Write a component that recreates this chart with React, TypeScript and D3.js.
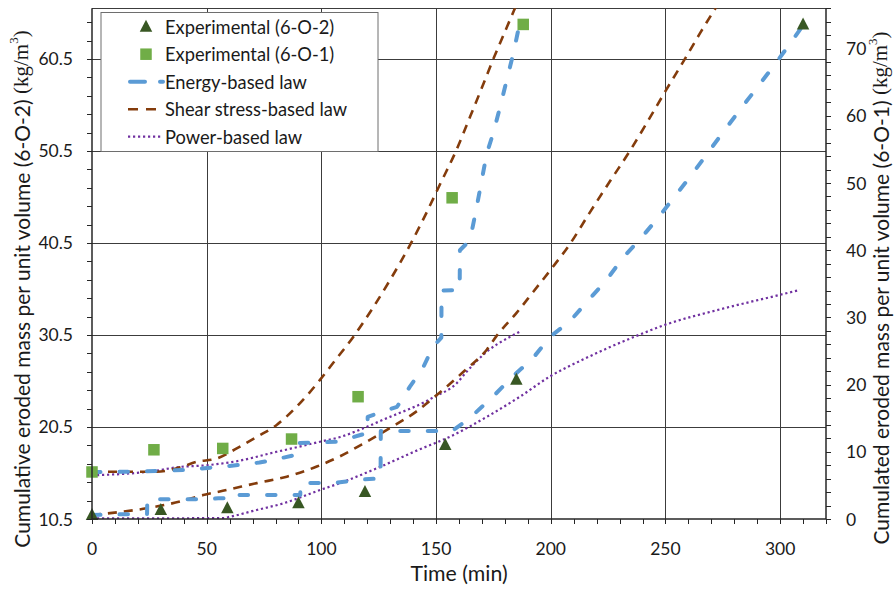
import React from "react";
import * as d3 from "d3";

// ---------- data ----------
const expO2Time = [0, 30, 59, 90, 119, 154, 185, 310];
const expO2Mass = [10.93, 11.48, 11.66, 12.2, 13.44, 18.55, 25.62, 64.23];
const expO1Time = [0, 27, 57, 87, 116, 157, 188];
const expO1Mass = [7.0, 10.3, 10.5, 11.9, 18.2, 47.8, 73.6];

// model curves for 6-O-2 (left axis)
const energyO2: [number, number][] = [
  [0, 10.93], [18, 11.04], [24, 11.05], [24.1, 12.64], [49, 12.64], [55, 12.75], [58.7, 12.75],
  [58.8, 13.1], [84, 13.1], [90.8, 13.1], [90.9, 14.4], [107, 14.45], [118, 14.8], [125.8, 14.9],
  [125.9, 20.07], [157, 20.07], [161.7, 20.9], [167, 22.0], [174.8, 23.8], [183.5, 26.0],
  [192.3, 28.0], [199.7, 30.3], [208.4, 32.0], [215.8, 34.1], [224.4, 36.5], [231.5, 38.9],
  [239.6, 41.1], [246.7, 43.2], [254.2, 45.6], [261.4, 47.9], [268.5, 50.3], [275.9, 52.8],
  [283.2, 55.2], [290.3, 57.5], [297.7, 59.9], [305, 62.4], [309, 63.8],
];
const shearO2: [number, number][] = [
  [0, 10.93], [13.6, 11.3], [23.8, 11.66], [38.4, 12.4], [48.5, 13.1], [58.7, 13.65], [71.8, 14.4],
  [84.9, 15.1], [98, 16.2], [108, 17.3], [119.7, 18.9], [130, 20.4], [141.5, 22.2], [149.5, 23.8],
  [156.1, 25.2], [163.3, 26.8], [172.1, 28.9], [176.4, 30.4], [185.1, 32.9], [192.4, 35.2],
  [200, 37.6], [208.4, 40.4], [217, 43.8], [225.8, 47.2], [234.5, 50.5], [242, 53.6], [250, 57.0],
  [258.5, 60.5], [265.1, 63.3], [272.3, 66.2],
];
const powerO2: [number, number][] = [
  [0, 10.58], [30, 10.58], [57, 10.6], [60.2, 10.75], [71.8, 11.48], [83.4, 12.2], [99.4, 13.65],
  [108.1, 14.4], [125, 16.1], [142.2, 18.0], [156.1, 19.45], [172.1, 21.6], [186.6, 23.8],
  [199.7, 26.0], [214.2, 27.85], [237.4, 30.4], [249.8, 31.6], [273.8, 33.28], [299.9, 34.86],
  [308.6, 35.4],
];

// model curves for 6-O-1 (right axis)
const energyO1: [number, number][] = [
  [0, 7.0], [20, 7.05], [41, 7.3], [60, 7.9], [73, 8.4], [83, 9.1], [89.8, 9.6], [90, 11.3],
  [107, 11.5], [117, 12.5], [120, 12.8], [120.2, 15.2], [133, 16.7], [138.6, 19.7], [144.3, 22.5],
  [148.6, 25.6], [151, 26.5], [152.3, 27], [152.4, 34], [160.3, 34.1], [160.4, 40], [164.8, 41.5],
  [167.7, 46.4], [169.9, 50.4], [172.1, 54.4], [174.9, 57.4], [177.9, 61.3], [180.8, 65.3],
  [183.7, 69.3], [185.8, 72.7], [188, 74.5],
];
const shearO1: [number, number][] = [
  [0, 7.03], [28.2, 7.03], [38.4, 7.7], [45.6, 8.5], [54.4, 9.0], [63.1, 10.5], [71.8, 12.2],
  [80.5, 14.0], [89.2, 16.7], [99.4, 20.7], [106, 23.6], [113.9, 27.1], [122.6, 31.5], [130, 35.6],
  [139, 41], [145, 45], [152, 50], [158.6, 54.7], [165, 60], [170, 64.2], [174.9, 68.4],
  [180, 72.5], [185, 76.5],
];
const powerO1: [number, number][] = [
  [0, 6.5], [28.2, 7.2], [36.9, 7.7], [50, 8.0], [63.1, 8.6], [80.5, 10.0], [87, 10.5],
  [99.4, 11.5], [108.2, 12.2], [118.3, 13.5], [129.9, 15.2], [134.3, 15.8], [144.4, 17.3],
  [148.8, 18.1], [159, 20.2], [163.3, 21.9], [172.1, 24.9], [182.2, 27.1], [186.6, 27.9],
];

const xTickLabels = [0, 50, 100, 150, 200, 250, 300];
const leftTickLabels = ["10.5", "20.5", "30.5", "40.5", "50.5", "60.5"];
const rightTickLabels = [0, 10, 20, 30, 40, 50, 60, 70];
const legendLabels = [
  "Experimental (6-O-2)",
  "Experimental (6-O-1)",
  "Energy-based law",
  "Shear stress-based law",
  "Power-based law",
];

// ---------- styles ----------
const FONT = "Lato, 'Open Sans', sans-serif";
const SERIF = "'Liberation Serif', 'DejaVu Serif', serif";
const TXT = "#1a1a1a";
const GRID = "#3c3c3c";
const BLUE = "#5B9BD5";
const BROWN = "#843C0C";
const PURPLE = "#7030A0";
const SQUARE = "#70AD47";
const TRI = "#385723";

const energyStyle = { stroke: BLUE, strokeWidth: 4, strokeDasharray: "8.5 19", strokeLinecap: "round" as const };
const shearStyle = { stroke: BROWN, strokeWidth: 2.6, strokeDasharray: "9 7", strokeLinecap: "butt" as const };
const powerStyle = { stroke: PURPLE, strokeWidth: 2.2, strokeDasharray: "2.2 2.8", strokeLinecap: "butt" as const };

export default function App() {
  const L = 92, R = 826, T = 8.3, B = 519;
  const x = d3.scaleLinear().domain([0, 320]).range([L, R]);
  const yL = d3.scaleLinear().domain([10.5, 66]).range([B, T]);
  const yR = d3.scaleLinear().domain([0, 76]).range([B, T]);

  const lineL = d3.line<[number, number]>().x((d) => x(d[0])).y((d) => yL(d[1]));
  const lineR = d3.line<[number, number]>().x((d) => x(d[0])).y((d) => yR(d[1]));
  const smoothL = d3.line<[number, number]>().x((d) => x(d[0])).y((d) => yL(d[1])).curve(d3.curveMonotoneX);
  const smoothR = d3.line<[number, number]>().x((d) => x(d[0])).y((d) => yR(d[1])).curve(d3.curveMonotoneX);

  const xMinor = d3.range(0, 320.01, 10);
  const lMinor = d3.range(10.5, 66.01, 2);
  const rMinor = d3.range(0, 76.01, 2);

  const triPath = (cx: number, cy: number) => {
    const w = 12.5, h = 12;
    return `M${cx},${cy - h / 2 - 1}L${cx + w / 2},${cy + h / 2 - 1}L${cx - w / 2},${cy + h / 2 - 1}Z`;
  };
  const sq = 11.5;

  const legX = 101, legY = 12.5, legW = 277, legH = 139;
  const rowY = (i: number) => 26.7 + i * 27.5;

  const cx = (a: number) => Math.round(a) + 0.5;

  return (
    <div style={{ position: "absolute", left: 0, top: 0 }}>
      <svg width={896} height={590} style={{ display: "block", background: "#fff" }} fontFamily={FONT}>
        <defs>
          <clipPath id="plotclip">
            <rect x={L} y={T} width={R - L} height={B - T} />
          </clipPath>
        </defs>
        {/* gridlines */}
        {xTickLabels.filter((t) => t > 0).map((t) => (
          <line key={"gx" + t} x1={cx(x(t))} x2={cx(x(t))} y1={T} y2={B} stroke={GRID} strokeWidth={1} />
        ))}
        {leftTickLabels.slice(1).map((s) => (
          <line key={"gy" + s} x1={L} x2={R} y1={cx(yL(+s))} y2={cx(yL(+s))} stroke={GRID} strokeWidth={1} />
        ))}
        <line x1={L} x2={R} y1={cx(T)} y2={cx(T)} stroke={GRID} strokeWidth={1} />

        {/* model lines */}
        <g clipPath="url(#plotclip)" fill="none">
          <path d={smoothL(powerO2) || ""} {...powerStyle} />
          <path d={smoothR(powerO1) || ""} {...powerStyle} />
          <path d={smoothL(shearO2) || ""} {...shearStyle} />
          <path d={smoothR(shearO1) || ""} {...shearStyle} />
          <path d={lineL(energyO2) || ""} {...energyStyle} strokeLinejoin="round" />
          <path d={lineR(energyO1) || ""} {...energyStyle} strokeLinejoin="round" />
        </g>

        {/* markers */}
        {expO1Time.map((t, i) => (
          <rect key={"s" + i} x={x(t) - sq / 2} y={yR(expO1Mass[i]) - sq / 2} width={sq} height={sq} fill={SQUARE} />
        ))}
        {expO2Time.map((t, i) => (
          <path key={"t" + i} d={triPath(x(t), yL(expO2Mass[i]))} fill={TRI} />
        ))}

        {/* axes */}
        <line x1={L} x2={L} y1={T} y2={B} stroke="#262626" strokeWidth={1.5} />
        <line x1={R} x2={R} y1={T} y2={B} stroke="#262626" strokeWidth={1.5} />
        <line x1={L} x2={R} y1={B} y2={B} stroke="#262626" strokeWidth={1.5} />
        {xMinor.map((t) => (
          <line key={"xt" + t} x1={cx(x(t))} x2={cx(x(t))} y1={B} y2={B + 5} stroke="#262626" strokeWidth={1} />
        ))}
        {lMinor.map((v) => (
          <line key={"lt" + v} x1={L - 5} x2={L} y1={cx(yL(v))} y2={cx(yL(v))} stroke="#262626" strokeWidth={1} />
        ))}
        {rMinor.map((v) => (
          <line key={"rt" + v} x1={R} x2={R + 5} y1={cx(yR(v))} y2={cx(yR(v))} stroke="#262626" strokeWidth={1} />
        ))}

        {/* tick labels */}
        {xTickLabels.map((t) => (
          <text key={"xl" + t} x={x(t)} y={548} textAnchor="middle" dominantBaseline="central" fontSize={17.5} fill={TXT}>
            {t}
          </text>
        ))}
        {leftTickLabels.map((s) => (
          <text key={"ll" + s} x={73} y={yL(+s)} textAnchor="end" dominantBaseline="central" fontSize={17.5} fill={TXT}>
            {s}
          </text>
        ))}
        {rightTickLabels.map((v) => (
          <text key={"rl" + v} x={846} y={yR(v)} textAnchor="start" dominantBaseline="central" fontSize={17.5} fill={TXT}>
            {v}
          </text>
        ))}

        {/* axis titles */}
        <text x={459} y={573} textAnchor="middle" dominantBaseline="central" fontSize={21.3} fill={TXT}>
          Time (min)
        </text>
        <text transform="translate(21,289) rotate(-90)" textAnchor="middle" dominantBaseline="central" fontSize={21} fill={TXT}>
          Cumulative eroded mass per unit volume (6-O-2){" "}
          <tspan fontFamily={SERIF}>(kg/m</tspan>
          <tspan fontFamily={SERIF} fontSize={13} dy={-8}>3</tspan>
          <tspan fontFamily={SERIF} dy={8}>)</tspan>
        </text>
        <text transform="translate(880,288) rotate(-90)" textAnchor="middle" dominantBaseline="central" fontSize={21} fill={TXT}>
          Cumulated eroded mass per unit volume (6-O-1){" "}
          <tspan fontFamily={SERIF}>(kg/m</tspan>
          <tspan fontFamily={SERIF} fontSize={13} dy={-8}>3</tspan>
          <tspan fontFamily={SERIF} dy={8}>)</tspan>
        </text>

        {/* legend */}
        <rect x={legX} y={legY} width={legW} height={legH} fill="#fff" stroke="#6e6e6e" strokeWidth={1} />
        <path d={triPath(146, rowY(0))} fill={TRI} />
        <rect x={146 - sq / 2} y={rowY(1) - sq / 2} width={sq} height={sq} fill={SQUARE} />
        <line x1={130} x2={163} y1={rowY(2)} y2={rowY(2)} {...energyStyle} strokeDasharray="15 15" />
        <line x1={128} x2={163} y1={rowY(3)} y2={rowY(3)} {...shearStyle} strokeDasharray="10 8" />
        <line x1={128} x2={163} y1={rowY(4)} y2={rowY(4)} {...powerStyle} />
        {legendLabels.map((s, i) => (
          <text key={"lg" + i} x={165} y={rowY(i)} dominantBaseline="central" fontSize={18.3} fill={TXT}>
            {s}
          </text>
        ))}
      </svg>
    </div>
  );
}
